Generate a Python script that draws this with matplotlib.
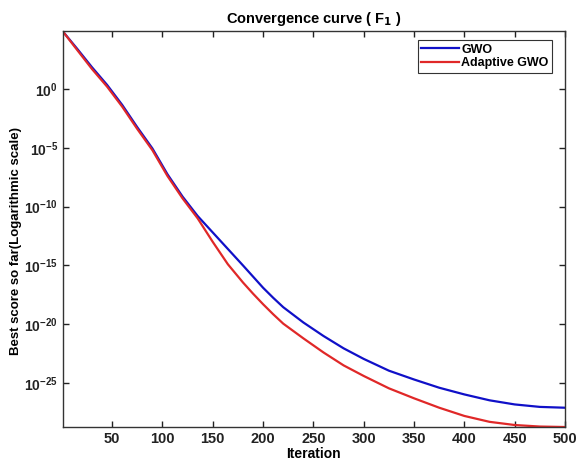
import numpy as np
import matplotlib
matplotlib.use('Agg')
import matplotlib.pyplot as plt

plt.rcParams['font.family'] = ['Liberation Sans', 'DejaVu Sans']
plt.rcParams['font.weight'] = 'bold'
plt.rcParams['mathtext.default'] = 'bf'

# iterations and log10 of best score
iters = [1, 15, 30, 45, 60, 75, 90, 105, 120, 135, 150, 165, 180, 190, 200,
         210, 220, 240, 260, 280, 300, 325, 350, 375, 400, 425, 450, 475, 500]
gwo_log = [4.9, 3.45, 1.85, 0.35, -1.35, -3.25, -5.05, -7.25, -9.15, -10.8,
           -12.2, -13.6, -15.0, -15.95, -16.9, -17.75, -18.55, -19.85, -21.0,
           -22.05, -22.95, -23.95, -24.7, -25.4, -25.97, -26.47, -26.82,
           -27.03, -27.1]
agwo_log = [4.9, 3.35, 1.7, 0.2, -1.5, -3.4, -5.2, -7.4, -9.3, -11.0,
            -13.0, -14.9, -16.45, -17.4, -18.3, -19.15, -19.95, -21.2, -22.4,
            -23.5, -24.4, -25.45, -26.3, -27.1, -27.8, -28.3, -28.57,
            -28.7, -28.74]

gwo = 10.0 ** np.array(gwo_log)
agwo = 10.0 ** np.array(agwo_log)

fig = plt.figure(figsize=(5.76, 4.72), dpi=100)
ax = fig.add_axes([0.109, 0.0953, 0.872, 0.839])

ax.semilogy(iters, gwo, color='#1010c8', lw=1.6, label='GWO')
ax.semilogy(iters, agwo, color='#e02828', lw=1.6, label='Adaptive GWO')

ax.set_xlim(1, 500)
ax.set_ylim(10 ** -28.74, 10 ** 4.93)
ax.set_xticks(np.arange(50, 501, 50))
ax.set_yticks([1e-25, 1e-20, 1e-15, 1e-10, 1e-5, 1e0])
ax.minorticks_off()
ax.tick_params(direction='in', top=True, right=True, length=4, width=1,
               labelsize=10.5, colors='#222222')
ax.tick_params(axis='y', labelsize=10)
for s in ax.spines.values():
    s.set_linewidth(1.0)
    s.set_color('#333333')

ax.set_title('Convergence curve ( F$_1$ )', fontsize=10.5, fontweight='bold')
ax.set_xlabel('Iteration', fontsize=10, fontweight='bold', labelpad=1)
ax.set_ylabel('Best score so far(Logarithmic scale)', fontsize=9.5,
              fontweight='bold')
ax.yaxis.set_label_coords(-0.082, 0.47)

leg = ax.legend(loc='upper right', fontsize=9, fancybox=False,
                edgecolor='#333333', framealpha=1, handlelength=3.0,
                borderpad=0.3, labelspacing=0.1, handletextpad=0.2,
                borderaxespad=0, bbox_to_anchor=(0.975, 0.977))
leg.get_frame().set_linewidth(0.8)

fig.savefig('out.png', dpi=100)
